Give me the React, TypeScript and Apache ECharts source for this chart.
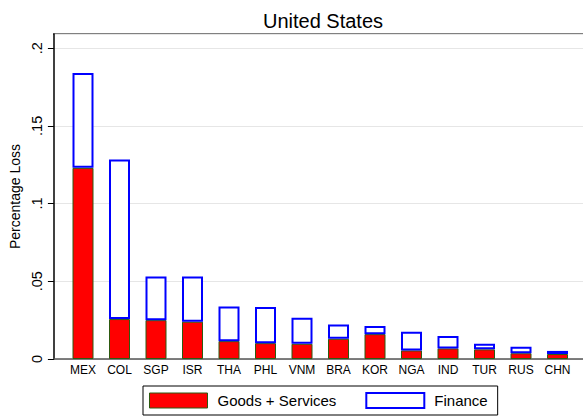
import React, { useEffect, useRef } from "react";
import * as echarts from "echarts";

const countries = ["MEX", "COL", "SGP", "ISR", "THA", "PHL", "VNM", "BRA", "KOR", "NGA", "IND", "TUR", "RUS", "CHN"];
const goodsServices = [0.123, 0.0257, 0.025, 0.024, 0.0115, 0.0102, 0.0098, 0.013, 0.016, 0.0055, 0.0068, 0.0062, 0.0037, 0.0032];
const finance = [0.061, 0.1026, 0.028, 0.029, 0.0223, 0.0233, 0.0167, 0.0092, 0.0053, 0.0121, 0.008, 0.0036, 0.0042, 0.002];

const FONT = "'Liberation Sans', Arial, sans-serif";
const Y_MAX = 0.2091;

export default function App() {
  const ref = useRef<HTMLDivElement>(null);
  useEffect(() => {
    if (!ref.current) return;
    const chart = echarts.init(ref.current, null, { renderer: "svg" });
    chart.setOption({
      animation: false,
      backgroundColor: "#ffffff",
      textStyle: { fontFamily: FONT },
      title: {
        text: "United States",
        left: 318,
        top: 6,
        textAlign: "center",
        textStyle: { fontFamily: FONT, fontSize: 20, fontWeight: "normal", color: "#000" },
      },
      grid: [
        { left: 53, right: 0, top: 34, bottom: 57 },
        { left: 64.75, right: 7.25, top: 34, bottom: 57 },
      ],
      legend: {
        left: 143,
        top: 386,
        orient: "horizontal",
        itemWidth: 58,
        itemHeight: 15,
        itemGap: 29,
        padding: [6, 10, 6, 6],
        borderColor: "#000",
        borderWidth: 1,
        icon: "rect",
        textStyle: { fontFamily: FONT, fontSize: 15, color: "#000", padding: [0, 0, 0, 5] },
        data: [
          { name: "Goods + Services", itemStyle: { color: "#ff0000", borderColor: "#2d5a10", borderWidth: 1 } },
          { name: "Finance", itemStyle: { color: "#ffffff", borderColor: "#0000ff", borderWidth: 2 } },
        ],
      },
      xAxis: [
        {
          gridIndex: 0,
          type: "value",
          min: 0,
          max: 1,
          splitLine: { show: false },
          axisTick: { show: false },
          axisLabel: { show: false },
          axisLine: { show: true, onZero: false, lineStyle: { color: "#555", width: 1.5 } },
        },
        {
          gridIndex: 1,
          type: "category",
          data: countries,
          boundaryGap: true,
          axisLine: { show: false },
          axisTick: { show: false },
          splitLine: { show: false },
          axisLabel: { fontFamily: FONT, fontSize: 12, color: "#000", margin: 5, interval: 0 },
        },
      ],
      yAxis: [
        {
          gridIndex: 0,
          type: "value",
          min: 0,
          max: Y_MAX,
          interval: 0.05,
          name: "Percentage Loss",
          nameLocation: "middle",
          nameGap: 30,
          nameRotate: 90,
          nameTextStyle: { fontFamily: FONT, fontSize: 14, color: "#000" },
          axisLine: { show: true, onZero: false, lineStyle: { color: "#000", width: 1.5 } },
          axisTick: { show: true, length: 6, lineStyle: { color: "#000" } },
          splitLine: { show: true, lineStyle: { color: "#e6e6e6", width: 1 } },
          axisLabel: {
            rotate: 90,
            margin: 9,
            fontFamily: FONT,
            fontSize: 14.5,
            color: "#000",
            showMaxLabel: false,
            formatter: (v: number) => {
              const r = Math.round(v * 100) / 100;
              return r === 0 ? "0" : String(r).replace(/^0\./, ".");
            },
          },
        },
        {
          gridIndex: 1,
          type: "value",
          min: 0,
          max: Y_MAX,
          show: false,
          splitLine: { show: false },
        },
      ],
      graphic: [
        {
          type: "line",
          shape: { x1: 53, y1: 34, x2: 583, y2: 34 },
          style: { stroke: "#808080", lineWidth: 2 },
          silent: true,
        },
      ],
      series: [
        {
          name: "Goods + Services",
          type: "bar",
          xAxisIndex: 1,
          yAxisIndex: 1,
          stack: "total",
          barWidth: 21,
          itemStyle: { color: "#ff0000", borderColor: "#2d5a10", borderWidth: 1 },
          data: goodsServices,
        },
        {
          name: "Finance",
          type: "bar",
          xAxisIndex: 1,
          yAxisIndex: 1,
          stack: "total",
          barWidth: 21,
          itemStyle: { color: "#ffffff", borderColor: "#0000ff", borderWidth: 2 },
          data: finance,
        },
      ],
    });
    return () => chart.dispose();
  }, []);
  return <div ref={ref} style={{ width: 583, height: 416, position: "absolute", left: 0, top: 0 }} />;
}
